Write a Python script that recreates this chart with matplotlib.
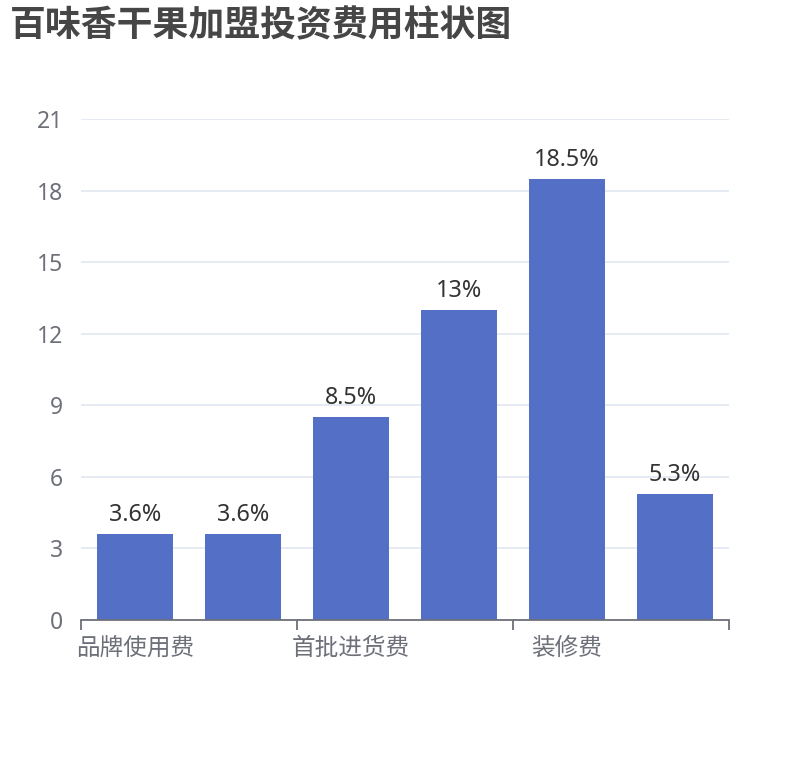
import matplotlib

matplotlib.use("Agg")
import matplotlib.pyplot as plt
import numpy as np

plt.rcParams["font.family"] = ["Noto Sans", "Noto Sans CJK SC", "DejaVu Sans"]

title = "百味香干果加盟投资费用柱状图"
categories = ["品牌使用费", "保证金", "首批进货费", "设备费", "装修费", "其他费用"]
values = [3.6, 3.6, 8.5, 13, 18.5, 5.3]
value_labels = ["3.6%", "3.6%", "8.5%", "13%", "18.5%", "5.3%"]
y_ticks = [0, 3, 6, 9, 12, 15, 18, 21]

_BAR = "#5470c6"
_AXIS = "#6e7079"
_GRID = "#e0e6f1"

fig = plt.figure(figsize=(8.1, 7.6), dpi=100, facecolor="white")
ax = fig.add_axes([0.1, 0.1842, 0.8, 0.6592])

x = np.arange(len(categories))
ax.bar(x, values, width=0.7, color=_BAR, zorder=3)
for xi, v, lab in zip(x, values, value_labels):
    ax.annotate(lab, (xi, v), xytext=(0, 5), textcoords="offset points",
                ha="center", va="bottom", fontsize=16.8, color="#333333")

ax.set_xlim(-0.5, len(categories) - 0.5)
ax.set_ylim(0, 21)
ax.set_yticks(y_ticks)
ax.set_yticklabels([str(t) for t in y_ticks], fontsize=16.5, color=_AXIS)
ax.tick_params(axis="y", length=0, pad=13)
ax.yaxis.grid(True, color=_GRID, linewidth=1.2, zorder=0)

# category labels on every other bar, ticks on group boundaries
ax.set_xticks(x[::2])
ax.set_xticklabels(categories[::2], fontsize=17, color=_AXIS,
                   family=["Noto Sans CJK SC", "DejaVu Sans"])
ax.tick_params(axis="x", length=0, pad=12)
ax.set_xticks(np.arange(-0.5, len(categories), 2), minor=True)
ax.tick_params(axis="x", which="minor", length=7, width=1.3, color=_AXIS)

for name in ("top", "right", "left"):
    ax.spines[name].set_visible(False)
ax.spines["bottom"].set_color(_AXIS)
ax.spines["bottom"].set_linewidth(1.3)
ax.spines["bottom"].set_zorder(4)

fig.text(10 / 810, 1 - 26 / 760, title, fontsize=25.8, fontweight="bold",
         color="#464646", ha="left", va="center",
         family=["Noto Sans CJK SC", "DejaVu Sans"])

fig.savefig("out.png", dpi=100, facecolor="white")
